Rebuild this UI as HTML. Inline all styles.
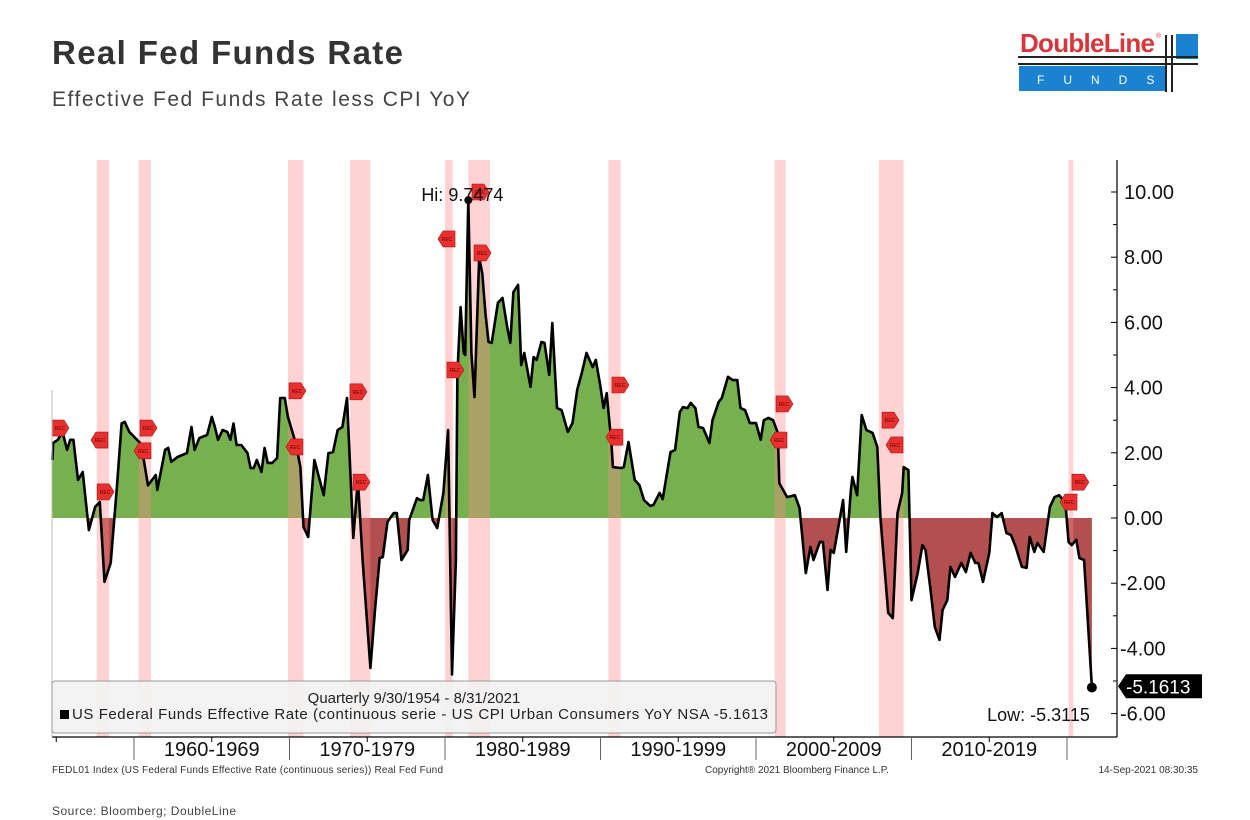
<!DOCTYPE html>
<html><head><meta charset="utf-8">
<style>
html,body{margin:0;padding:0;background:#fff;width:1250px;height:820px;overflow:hidden;font-family:"Liberation Sans",sans-serif;}
</style></head>
<body>
<svg id="chart" width="1250" height="820" viewBox="0 0 1250 820" xmlns="http://www.w3.org/2000/svg">
  <text x="52" y="64" font-family="Liberation Sans, sans-serif" font-size="33" font-weight="bold" fill="#333" textLength="351">Real Fed Funds Rate</text>
  <text x="52" y="106" font-family="Liberation Sans, sans-serif" font-size="21" fill="#444" textLength="418">Effective Fed Funds Rate less CPI YoY</text>
  <g>
    <text x="1020" y="52" font-family="Liberation Sans, sans-serif" font-size="26" font-weight="bold" fill="#d9363b" textLength="135">DoubleLine</text>
    <text x="1156" y="38" font-size="7" fill="#d9363b">®</text>
    <rect x="1176" y="34" width="22" height="25" fill="#1a82d0"/>
    <rect x="1019" y="66" width="148" height="25" fill="#1a82d0"/>
    <text x="1037" y="84" font-size="12" fill="#fff" letter-spacing="19">FUNDS</text>
    <line x1="1018" y1="57" x2="1198" y2="57" stroke="#222" stroke-width="2"/>
    <line x1="1018" y1="64" x2="1198" y2="64" stroke="#222" stroke-width="2"/>
    <line x1="1166" y1="35" x2="1166" y2="92" stroke="#222" stroke-width="2"/>
    <line x1="1172" y1="35" x2="1172" y2="92" stroke="#222" stroke-width="2"/>
  </g>
  <g id="plot"></g>
  <text x="52" y="773" font-family="Liberation Sans Narrow, Liberation Sans, sans-serif" font-size="10" fill="#333" textLength="391">FEDL01 Index (US Federal Funds Effective Rate (continuous series)) Real Fed Fund</text>
  <text x="705" y="773" font-family="Liberation Sans Narrow, Liberation Sans, sans-serif" font-size="10" fill="#333">Copyright® 2021 Bloomberg Finance L.P.</text>
  <text x="1198" y="773" text-anchor="end" font-family="Liberation Sans Narrow, Liberation Sans, sans-serif" font-size="10" fill="#333">14-Sep-2021 08:30:35</text>
  <text x="52" y="815" font-family="Liberation Sans, sans-serif" font-size="12" fill="#444" textLength="184">Source: Bloomberg; DoubleLine</text>
</svg>
<script>
const years = [1954.75,1954.8,1955.1,1955.4,1955.7,1955.9,1956.1,1956.4,1956.7,1957.1,1957.5,1957.8,1958.1,1958.5,1958.9,1959.2,1959.4,1959.7,1960.4,1960.6,1960.9,1961.4,1961.5,1962.0,1962.2,1962.4,1962.8,1963.4,1963.7,1963.9,1964.2,1964.7,1965.0,1965.2,1965.4,1965.7,1966.0,1966.2,1966.4,1966.6,1966.9,1967.3,1967.5,1967.7,1967.9,1968.2,1968.4,1968.6,1968.9,1969.2,1969.4,1969.7,1969.9,1970.4,1970.7,1970.9,1971.2,1971.6,1972.2,1972.5,1972.8,1973.1,1973.4,1973.7,1973.9,1974.1,1974.4,1974.7,1975.2,1975.5,1975.8,1976.0,1976.3,1976.7,1976.9,1977.2,1977.6,1977.7,1978.2,1978.4,1978.6,1978.9,1979.2,1979.5,1979.9,1980.2,1980.45,1980.7,1980.8,1981.0,1981.2,1981.3,1981.5,1981.7,1981.9,1982.2,1982.4,1982.6,1982.8,1983.0,1983.4,1983.7,1984.0,1984.2,1984.4,1984.7,1984.9,1985.1,1985.5,1985.7,1985.9,1986.2,1986.4,1986.7,1986.9,1987.2,1987.5,1987.9,1988.2,1988.5,1988.8,1989.1,1989.5,1989.7,1990.0,1990.2,1990.4,1990.7,1990.8,1991.3,1991.5,1991.8,1992.2,1992.5,1992.8,1993.2,1993.4,1993.8,1994.0,1994.5,1994.8,1995.1,1995.3,1995.6,1995.8,1996.1,1996.3,1996.6,1997.0,1997.2,1997.6,1997.8,1998.2,1998.5,1998.8,1999.0,1999.3,1999.6,2000.0,2000.3,2000.5,2000.8,2001.1,2001.4,2001.5,2002.0,2002.5,2002.8,2003.2,2003.5,2003.7,2004.1,2004.3,2004.6,2004.8,2005.0,2005.6,2005.8,2006.1,2006.2,2006.5,2006.8,2007.1,2007.5,2007.8,2008.0,2008.5,2008.8,2009.1,2009.4,2009.5,2009.8,2010.0,2010.4,2010.7,2010.9,2011.2,2011.5,2011.8,2012.0,2012.3,2012.5,2012.8,2013.2,2013.5,2013.8,2014.1,2014.3,2014.6,2015.0,2015.2,2015.5,2015.8,2016.1,2016.4,2016.7,2017.1,2017.4,2017.6,2017.9,2018.1,2018.5,2018.9,2019.2,2019.5,2019.9,2020.1,2020.3,2020.6,2020.8,2021.1,2021.6];
const realRate = [1.78,2.3,2.4,2.64,2.09,2.4,2.4,1.17,1.41,-0.37,0.34,0.49,-1.96,-1.38,0.95,2.9,2.95,2.64,2.3,1.87,1.0,1.32,0.86,2.09,2.15,1.72,1.87,1.99,2.79,2.09,2.45,2.55,3.1,2.79,2.4,2.7,2.64,2.4,2.9,2.24,2.24,1.99,1.53,1.53,1.78,1.41,2.15,1.69,1.69,1.84,3.68,3.68,3.1,2.3,1.56,-0.28,-0.58,1.78,0.7,1.99,2.02,2.7,2.79,3.68,1.56,-0.61,1.17,-1.29,-4.6,-2.82,-1.23,-1.2,-0.12,0.15,0.15,-1.29,-0.98,-0.06,0.61,0.55,0.55,1.32,-0.06,-0.31,0.77,2.7,-4.8,-1.29,4.45,6.47,5.06,5.0,9.75,5.06,3.71,8.0,7.5,6.29,5.4,5.37,6.6,6.75,5.86,5.37,6.93,7.15,4.69,5.06,4.02,4.94,4.85,5.4,5.37,4.39,5.98,3.37,3.31,2.64,2.91,3.93,4.45,5.06,4.63,4.85,4.02,3.37,3.83,2.3,1.56,1.53,1.56,2.33,1.17,1.01,0.55,0.37,0.4,0.77,0.58,2.02,2.09,3.25,3.4,3.37,3.53,3.37,2.79,2.76,2.3,3.0,3.56,3.68,4.33,4.23,4.23,3.37,3.31,2.91,2.91,2.4,3.0,3.07,3.0,2.61,1.07,0.64,0.7,0.31,-1.69,-0.89,-1.29,-0.74,-0.74,-2.21,-0.98,-1.07,0.55,-1.04,0.86,1.26,0.7,3.16,2.7,2.61,2.18,0.03,-2.91,-3.07,0.15,0.77,1.56,1.47,-2.52,-1.69,-0.83,-0.98,-2.12,-3.34,-3.74,-2.82,-2.52,-1.5,-1.81,-1.38,-1.66,-1.07,-1.38,-1.38,-1.96,-1.07,0.15,0.03,0.15,-0.46,-0.52,-0.89,-1.5,-1.53,-0.58,-1.04,-0.77,-1.04,0.34,0.64,0.7,0.46,-0.74,-0.83,-0.67,-1.23,-1.29,-5.2];
const recStart = [1957.6,1960.3,1969.9,1973.9,1980.0,1981.5,1990.5,2001.2,2007.9,2020.1];
const recEnd   = [1958.4,1961.1,1970.9,1975.2,1980.5,1982.9,1991.3,2001.9,2009.5,2020.4];
const recTagYear  = [1955.24,1957.81,1958.14,1960.9,1960.58,1970.48,1970.35,1974.4,1974.6,1980.13,1980.64,1982.25,1982.38,1991.25,1990.93,2001.8,2001.48,2008.62,2008.94,2020.83,2020.13];
const recTagValue = [2.76,2.39,0.8,2.76,2.06,3.9,2.18,3.87,1.1,8.56,4.54,10.0,8.13,4.08,2.48,3.5,2.39,3.0,2.24,1.1,0.49];
const recTagLeft  = [0,1,0,0,1,0,1,0,0,1,0,0,0,0,1,0,1,0,1,0,1];
const yTicks = [10,8,6,4,2,0,-2,-4,-6];
const decadeLabels = ["1960-1969","1970-1979","1980-1989","1990-1999","2000-2009","2010-2019"];
const decadeStarts = [1960,1970,1980,1990,2000,2010];
const hiValue = 9.7474, lastValue = -5.1613, lowValue = -5.3115;

const NS = "http://www.w3.org/2000/svg";
const plot = document.getElementById('plot');
const X0 = 52, X1 = 1117, YT = 160, YB = 737;
const xs = y => 134 + (y - 1960) * 15.55;
const ys = v => 518 - v * 32.6;
function mk(tag, attrs, parent) {
  const e = document.createElementNS(NS, tag);
  for (const k in attrs) e.setAttribute(k, attrs[k]);
  (parent || plot).appendChild(e);
  return e;
}
const defs = mk('defs', {});
const cpA = mk('clipPath', {id: 'above'}, defs); mk('rect', {x: X0, y: YT, width: X1 - X0, height: ys(0) - YT}, cpA);
const cpB = mk('clipPath', {id: 'below'}, defs); mk('rect', {x: X0, y: ys(0), width: X1 - X0, height: YB - ys(0)}, cpB);

let pts = years.map((y, i) => xs(y).toFixed(1) + ',' + ys(realRate[i]).toFixed(1));
const areaD = 'M' + xs(years[0]) + ',' + ys(0) + ' L' + pts.join(' L') + ' L' + xs(years[years.length - 1]) + ',' + ys(0) + ' Z';
const aG = mk('path', {d: areaD, fill: '#77b04e', 'clip-path': 'url(#above)'});


const aR = mk('path', {d: areaD, fill: '#b24f4f', 'clip-path': 'url(#below)'});



recStart.forEach((s, i) => {
  const r = mk('rect', {x: xs(s), y: YT, width: Math.max(4, xs(recEnd[i]) - xs(s)), height: YB - YT, fill: 'rgba(255,140,140,0.38)'});
  
  
});

const ln = mk('polyline', {points: pts.join(' '), fill: 'none', stroke: '#000', 'stroke-width': 2.6, 'stroke-linejoin': 'round'});



recTagYear.forEach((y, i) => {
  const cx = xs(y), cy = ys(recTagValue[i]);
  const g = mk('g', {});
  
  
  const d = recTagLeft[i]
    ? `M${cx-9},${cy} L${cx-4},${cy-8} L${cx+8},${cy-8} L${cx+8},${cy+8} L${cx-4},${cy+8} Z`
    : `M${cx+9},${cy} L${cx+4},${cy-8} L${cx-8},${cy-8} L${cx-8},${cy+8} L${cx+4},${cy+8} Z`;
  mk('path', {d: d, fill: '#e8302f', stroke: '#a01818', 'stroke-width': 0.6}, g);
  const t = mk('text', {x: cx, y: cy + 2, 'text-anchor': 'middle', 'font-size': 5, fill: '#600'}, g);
  t.textContent = 'REC';
});

const ax = mk('line', {x1: X1, y1: YT, x2: X1, y2: YB, stroke: '#000', 'stroke-width': 1.2});


const bx = mk('line', {x1: X0, y1: YB, x2: X1, y2: YB, stroke: '#000', 'stroke-width': 1.2});


mk('line', {x1: X0, y1: YT + 230, x2: X0, y2: YB, stroke: '#bbb', 'stroke-width': 1});
for (let v = -6; v <= 10; v++) {
  mk('line', {x1: X1 - (v % 2 === 0 ? 6 : 4), y1: ys(v), x2: X1, y2: ys(v), stroke: '#000', 'stroke-width': 1});
}
yTicks.forEach(v => {
  const t = mk('text', {x: v < 0 ? 1120 : 1124, y: ys(v) + 7, 'font-size': 20, fill: '#111', 'font-family': 'Liberation Sans, sans-serif'});
  
  
  t.textContent = (v < 0 ? '-' : '') + Math.abs(v).toFixed(2);
});
decadeStarts.forEach((d, i) => {
  mk('line', {x1: xs(d), y1: YB, x2: xs(d), y2: YB + 23, stroke: '#666', 'stroke-width': 1});
  const t = mk('text', {x: xs(d + 5), y: YB + 19, 'text-anchor': 'middle', 'font-size': 20, fill: '#111', 'font-family': 'Liberation Sans, sans-serif'});
  
  
  t.textContent = decadeLabels[i];
});
mk('line', {x1: xs(2020), y1: YB, x2: xs(2020), y2: YB + 23, stroke: '#666', 'stroke-width': 1});
[1955, 1965, 1975, 1985, 1995, 2005, 2015].forEach(y => mk('line', {x1: xs(y), y1: YB, x2: xs(y), y2: YB + 5, stroke: '#000', 'stroke-width': 1}));

const hiIdx = realRate.indexOf(Math.max(...realRate));
mk('circle', {cx: xs(years[hiIdx]), cy: ys(realRate[hiIdx]), r: 4, fill: '#000'});
const hiT = mk('text', {x: xs(years[hiIdx]) - 47, y: ys(hiValue) + 1, 'font-size': 18, fill: '#111'});


hiT.textContent = 'Hi: ' + hiValue.toFixed(4);
const lastIdx = years.length - 1;
mk('circle', {cx: xs(years[lastIdx]), cy: ys(realRate[lastIdx]), r: 5, fill: '#000'});
const loT = mk('text', {x: xs(years[lastIdx]) - 2, y: ys(lowValue) + 30, 'text-anchor': 'end', 'font-size': 18, fill: '#111'});


loT.textContent = 'Low: ' + lowValue.toFixed(4);
const ly = ys(lastValue);
const lg = mk('g', {});


mk('path', {d: `M${X1+1},${ly} L${X1+9},${ly-12} L1202,${ly-12} L1202,${ly+12} L${X1+9},${ly+12} Z`, fill: '#000'}, lg);
const lt = mk('text', {x: 1126, y: ly + 7, 'font-size': 19, fill: '#fff'}, lg);
lt.textContent = lastValue.toFixed(4);

const leg = mk('g', {});


mk('rect', {x: 52, y: 681, width: 724, height: 52, rx: 3, fill: 'rgba(242,242,242,0.92)', stroke: '#999', 'stroke-width': 1}, leg);
const l1 = mk('text', {x: 414, y: 703, 'text-anchor': 'middle', 'font-size': 15, fill: '#222', 'font-family': 'Liberation Sans Narrow, Liberation Sans, sans-serif'}, leg);
l1.textContent = 'Quarterly 9/30/1954 - 8/31/2021';
mk('rect', {x: 60, y: 710, width: 9, height: 9, fill: '#000'}, leg);
const l2 = mk('text', {x: 72, y: 719, 'font-size': 15, fill: '#222', 'font-family': 'Liberation Sans Narrow, Liberation Sans, sans-serif', textLength: 696}, leg);

l2.textContent = 'US Federal Funds Effective Rate (continuous serie - US CPI Urban Consumers YoY NSA ' + lastValue.toFixed(4);
</script>
</body></html>
